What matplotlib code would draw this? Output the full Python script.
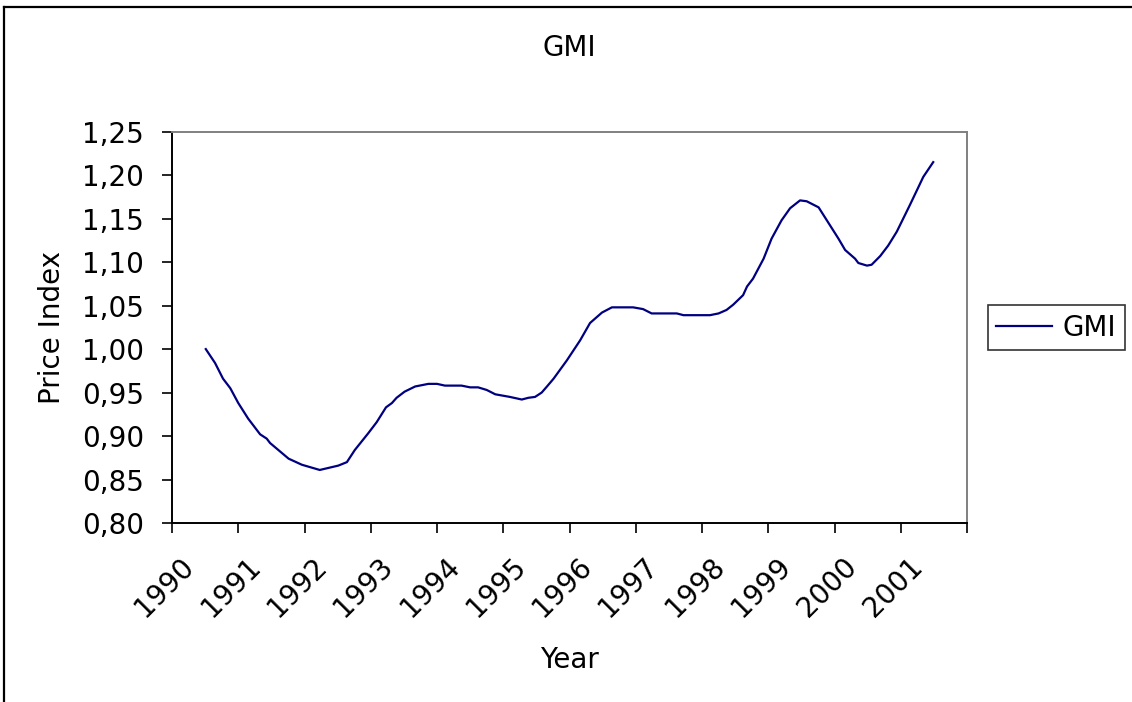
import numpy as np
import matplotlib
matplotlib.use("Agg")
import matplotlib.pyplot as plt
from matplotlib.lines import Line2D
from matplotlib.ticker import FuncFormatter

# GMI price index (decimal year, index)
years = [
    1990.51, 1990.65, 1990.77, 1990.88, 1991.00, 1991.15, 1991.33, 1991.43,
    1991.48, 1991.76, 1991.96, 1992.23, 1992.51, 1992.64, 1992.76, 1992.96,
    1993.09, 1993.23, 1993.32, 1993.39, 1993.51, 1993.67, 1993.87, 1994.00,
    1994.12, 1994.37, 1994.50, 1994.62, 1994.75, 1994.88, 1995.10, 1995.28,
    1995.38, 1995.48, 1995.58, 1995.66, 1995.76, 1995.96, 1996.16, 1996.31,
    1996.49, 1996.64, 1996.96, 1997.11, 1997.24, 1997.62, 1997.72, 1998.12,
    1998.25, 1998.37, 1998.47, 1998.62, 1998.68, 1998.77, 1998.93, 1999.05,
    1999.20, 1999.33, 1999.48, 1999.58, 1999.76, 1999.91, 2000.06, 2000.16,
    2000.31, 2000.36, 2000.49, 2000.56, 2000.69, 2000.81, 2000.94, 2001.14,
    2001.34, 2001.49,
]
gmi = [
    1.000, 0.984, 0.966, 0.955, 0.938, 0.920, 0.902, 0.897,
    0.892, 0.874, 0.867, 0.861, 0.866, 0.870, 0.884, 0.903,
    0.916, 0.933, 0.938, 0.944, 0.951, 0.957, 0.960, 0.960,
    0.958, 0.958, 0.956, 0.956, 0.953, 0.948, 0.945, 0.942,
    0.944, 0.945, 0.950, 0.957, 0.966, 0.987, 1.010, 1.030,
    1.042, 1.048, 1.048, 1.046, 1.041, 1.041, 1.039, 1.039,
    1.041, 1.045, 1.051, 1.062, 1.072, 1.081, 1.104, 1.127,
    1.148, 1.162, 1.171, 1.170, 1.163, 1.145, 1.127, 1.114,
    1.104, 1.099, 1.096, 1.097, 1.107, 1.119, 1.135, 1.166,
    1.198, 1.215,
]
year_labels = [str(y) for y in range(1990, 2002)]
y_ticks = [0.80, 0.85, 0.90, 0.95, 1.00, 1.05, 1.10, 1.15, 1.20, 1.25]

plt.rcParams.update({
    "font.family": "DejaVu Sans",
    "font.size": 20,
})

fig = plt.figure(figsize=(11.32, 7.02), dpi=100)
ax = fig.add_axes([172 / 1132, 1 - 523 / 702, 795 / 1132, 391.3 / 702])

ax.plot(years, gmi, color="#000080", linewidth=1.6, label="GMI")

ax.set_xlim(1990, 2002)
ax.set_ylim(0.80, 1.25)

# major ticks at year boundaries, labels on minor ticks
ax.set_xticks(np.arange(1990, 2003))
ax.set_xticklabels([])
ax.set_xticks([int(y) + 0.27 for y in year_labels], minor=True)
ax.set_xticklabels(year_labels, minor=True, rotation=45, ha="right",
                   va="center", rotation_mode="anchor")
ax.tick_params(axis="x", which="major", direction="out", length=7,
               width=1.2, color="black")
ax.tick_params(axis="x", which="minor", length=0, pad=28)

ax.set_yticks(y_ticks)
ax.yaxis.set_major_formatter(FuncFormatter(lambda v, p: f"{v:.2f}".replace(".", ",")))
ax.tick_params(axis="y", direction="out", length=7, width=1.2,
               color="black", pad=13)

ax.spines["left"].set_color("black")
ax.spines["bottom"].set_color("black")
ax.spines["left"].set_linewidth(1.4)
ax.spines["bottom"].set_linewidth(1.4)
ax.spines["top"].set_color("#808080")
ax.spines["right"].set_color("#808080")
ax.spines["top"].set_linewidth(1.4)
ax.spines["right"].set_linewidth(1.4)

ax.set_ylabel("Price Index")
ax.yaxis.label.set_verticalalignment("center")
ax.yaxis.set_label_coords((52 - 172) / 795, 0.5)
ax.set_xlabel("Year")
ax.xaxis.label.set_verticalalignment("center")
ax.xaxis.set_label_coords(0.5, (523 - 660) / 391.3)

fig.text(569.5 / 1132, 1 - 48 / 702, "GMI", ha="center", va="center")

leg = fig.legend(loc="center left", bbox_to_anchor=(988 / 1132, 1 - 327.5 / 702),
                 frameon=True, fancybox=False, borderpad=0.3,
                 handlelength=2.0, handletextpad=0.4, borderaxespad=0)
leg.get_frame().set_edgecolor("black")
leg.get_frame().set_linewidth(1.2)

# outer chart border (top and left edges only are visible)
fig.add_artist(Line2D([4 / 1132, 1], [1 - 7 / 702, 1 - 7 / 702],
                      color="black", linewidth=1.6))
fig.add_artist(Line2D([4 / 1132, 4 / 1132], [0, 1 - 7 / 702],
                      color="black", linewidth=1.6))

fig.savefig("out.png", dpi=100)
